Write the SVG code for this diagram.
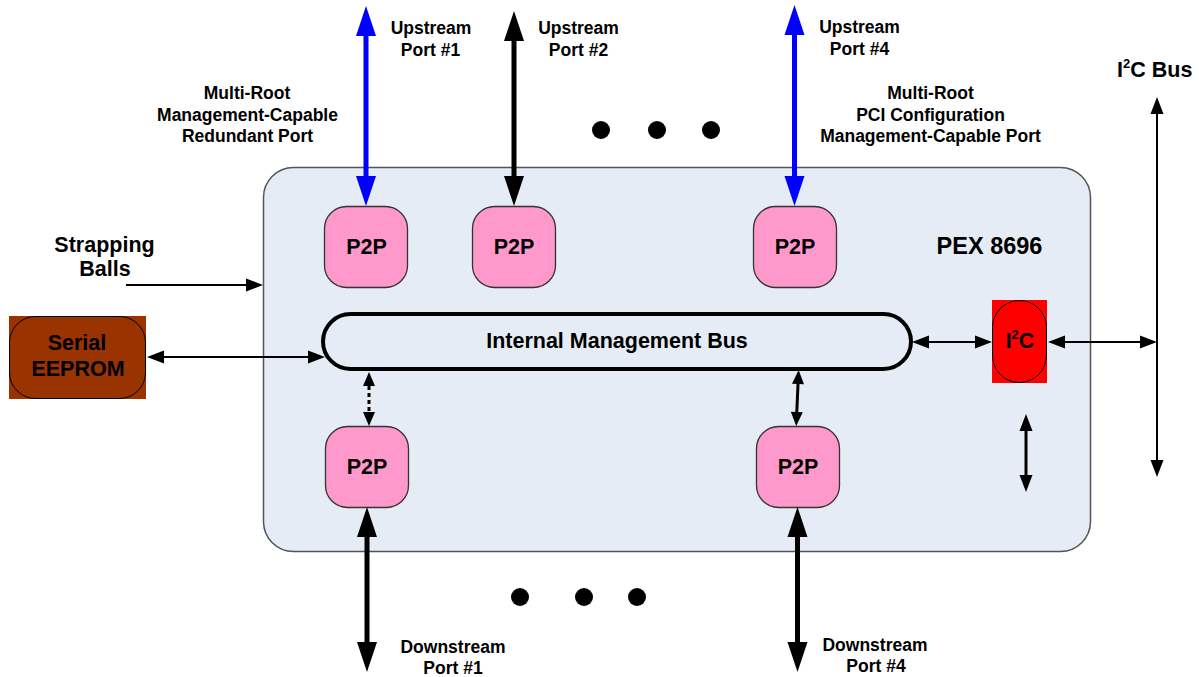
<svg xmlns="http://www.w3.org/2000/svg" width="1199" height="677" viewBox="0 0 1199 677">
<style>
text{font-family:"Liberation Sans",Arial,sans-serif;font-weight:bold;fill:#000;text-anchor:middle}
.s{font-size:17.5px}
.b{font-size:21.5px}
.p2p{fill:#ff99cc;stroke:#333;stroke-width:1.3}
.thick{stroke:#000;stroke-width:5;fill:none}
.blue{stroke:#0000ff;stroke-width:5;fill:none}
.thin{stroke:#000;stroke-width:2;fill:none}
.mid{stroke:#000;stroke-width:3;fill:none}
</style>
<defs>
<marker id="hb" markerUnits="userSpaceOnUse" markerWidth="30" markerHeight="20" refX="0" refY="10" orient="auto-start-reverse" overflow="visible"><path d="M0,0 L30,10 L0,20 z" fill="#000"/></marker>
<marker id="hbb" markerUnits="userSpaceOnUse" markerWidth="30" markerHeight="20" refX="0" refY="10" orient="auto-start-reverse" overflow="visible"><path d="M0,0 L30,10 L0,20 z" fill="#0000ff"/></marker>
<marker id="ht" markerUnits="userSpaceOnUse" markerWidth="17" markerHeight="13" refX="0" refY="6.5" orient="auto-start-reverse" overflow="visible"><path d="M0,0 L17,6.5 L0,13 z" fill="#000"/></marker>
<marker id="hs" markerUnits="userSpaceOnUse" markerWidth="14" markerHeight="12" refX="0" refY="6" orient="auto-start-reverse" overflow="visible"><path d="M0,0 L14,6 L0,12 z" fill="#000"/></marker>
</defs>

<g id="pex8696">
<rect x="263.5" y="167.5" width="827" height="384" rx="30" fill="#e5ecf5" stroke="#555" stroke-width="1.5"/>
<text class="b" x="989.5" y="254" style="font-size:23.5px">PEX 8696</text>
</g>

<g id="p2p-up1"><rect class="p2p" x="324.5" y="206.5" width="83" height="81" rx="22"/><text class="b" x="366.5" y="254">P2P</text></g>
<g id="p2p-up2"><rect class="p2p" x="472.5" y="206.5" width="83" height="81" rx="22"/><text class="b" x="514" y="254">P2P</text></g>
<g id="p2p-up4"><rect class="p2p" x="753.5" y="206.5" width="83" height="81" rx="22"/><text class="b" x="795" y="254">P2P</text></g>
<g id="p2p-down1"><rect class="p2p" x="325.5" y="426.5" width="83" height="81" rx="22"/><text class="b" x="367" y="474">P2P</text></g>
<g id="p2p-down4"><rect class="p2p" x="756.5" y="426.5" width="83" height="81" rx="22"/><text class="b" x="798" y="474">P2P</text></g>

<g id="bus">
<rect x="323" y="314" width="588" height="55" rx="27.5" fill="#e5ecf5" stroke="#000" stroke-width="4"/>
<text class="b" x="617" y="348">Internal Management Bus</text>
</g>

<g id="i2c">
<rect x="992" y="300" width="55" height="83" fill="#ff0000"/>
<rect x="992.5" y="300.5" width="54" height="82" rx="27" fill="#ff0000" stroke="#000" stroke-width="1"/>
<text class="b" x="1020" y="348">I<tspan font-size="13" dy="-9">2</tspan><tspan dy="9">C</tspan></text>
</g>

<g id="eeprom">
<rect x="9" y="316" width="137" height="83" fill="#993300"/>
<rect x="9.5" y="316.5" width="136" height="82" rx="26" fill="#993300" stroke="#000" stroke-width="1"/>
<text class="b" x="77" y="350">Serial</text>
<text class="b" x="78" y="376">EEPROM</text>
</g>

<g id="connectors">
<line class="blue" x1="366" y1="36" x2="366" y2="176" marker-start="url(#hbb)" marker-end="url(#hbb)"/>
<line class="thick" x1="514" y1="41" x2="514" y2="176" marker-start="url(#hb)" marker-end="url(#hb)"/>
<line class="blue" x1="794.5" y1="35" x2="794.5" y2="176" marker-start="url(#hbb)" marker-end="url(#hbb)"/>
<line class="thick" x1="367" y1="537" x2="367" y2="642" marker-start="url(#hb)" marker-end="url(#hb)"/>
<line class="thick" x1="797.5" y1="537" x2="797.5" y2="642" marker-start="url(#hb)" marker-end="url(#hb)"/>
<line class="thin" x1="126" y1="285" x2="246" y2="285" marker-end="url(#ht)"/>
<line class="thin" x1="164" y1="357" x2="308" y2="357" marker-start="url(#ht)" marker-end="url(#ht)"/>
<line class="thin" x1="929" y1="342" x2="975" y2="342" marker-start="url(#ht)" marker-end="url(#ht)"/>
<line class="thin" x1="1065" y1="342" x2="1140" y2="342" marker-start="url(#ht)" marker-end="url(#ht)"/>
<line class="thin" x1="1157" y1="114" x2="1157" y2="460" marker-start="url(#ht)" marker-end="url(#ht)"/>
<line class="mid" x1="1026" y1="431" x2="1026" y2="475" marker-start="url(#ht)" marker-end="url(#ht)"/>
<line class="mid" x1="369" y1="386" x2="369" y2="412" stroke-dasharray="4 3" marker-start="url(#hs)" marker-end="url(#hs)"/>
<line class="mid" x1="798" y1="384" x2="796.8" y2="412" marker-start="url(#hs)" marker-end="url(#hs)"/>
</g>

<g id="dots">
<circle cx="601" cy="130" r="9"/><circle cx="657" cy="130" r="9"/><circle cx="711" cy="130" r="9"/>
<circle cx="520" cy="597" r="9"/><circle cx="584" cy="597" r="9"/><circle cx="637" cy="597" r="9"/>
</g>

<g id="labels">
<text class="s" x="431" y="34">Upstream</text><text class="s" x="430.5" y="56">Port #1</text>
<text class="s" x="578.5" y="34">Upstream</text><text class="s" x="578.5" y="56">Port #2</text>
<text class="s" x="859.5" y="33">Upstream</text><text class="s" x="859.5" y="55">Port #4</text>
<text class="s" x="247" y="99">Multi-Root</text><text class="s" x="247.5" y="121">Management-Capable</text><text class="s" x="247.5" y="142">Redundant Port</text>
<text class="s" x="930.5" y="99">Multi-Root</text><text class="s" x="930.5" y="120.5">PCI Configuration</text><text class="s" x="930.5" y="142">Management-Capable Port</text>
<text class="b" x="104.5" y="252">Strapping</text><text class="b" x="105" y="276">Balls</text>
<text class="b" x="1117" y="77" style="text-anchor:start">I<tspan font-size="13" dy="-9">2</tspan><tspan dy="9">C Bus</tspan></text>
<text class="s" x="453" y="653">Downstream</text><text class="s" x="453" y="674">Port #1</text>
<text class="s" x="875" y="651">Downstream</text><text class="s" x="876" y="672">Port #4</text>
</g>
</svg>
